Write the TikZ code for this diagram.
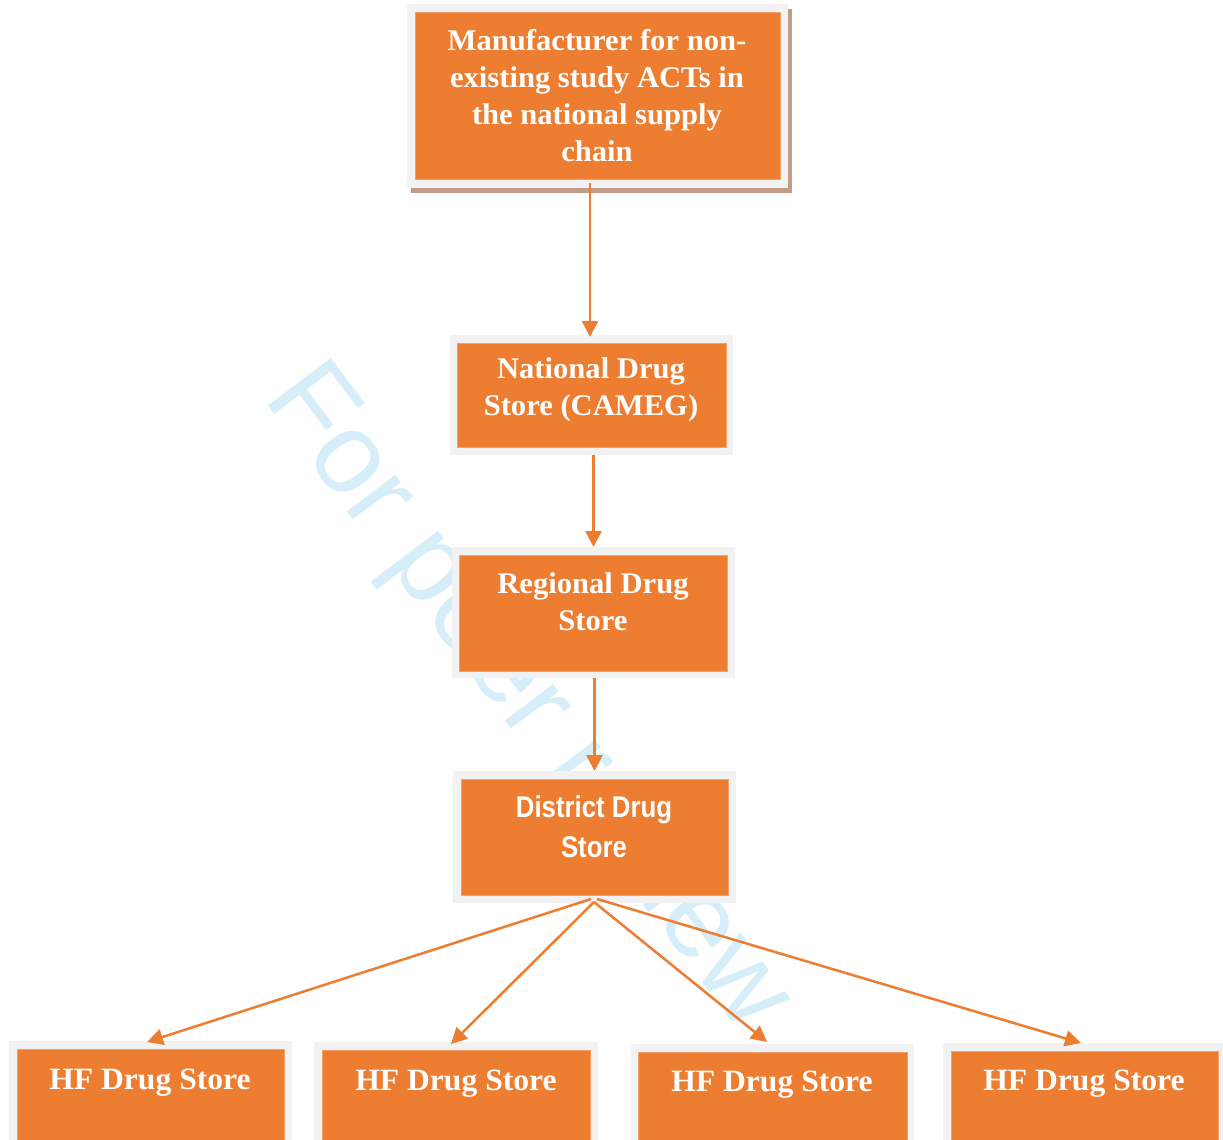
\documentclass[tikz,border=0pt]{standalone}
\usepackage{fontspec}
\setmainfont{Liberation Serif}[FakeStretch=1.02]
\newfontfamily\distfont{Liberation Sans}[FakeStretch=0.86]
\newfontfamily\wmfont{Liberation Sans}
\usetikzlibrary{arrows.meta,calc}
\definecolor{org}{HTML}{ED7D31}
\definecolor{frm}{HTML}{F2F2F2}
\definecolor{shd}{HTML}{C19C86}
\definecolor{wmc}{HTML}{D6EEFA}
\definecolor{orgedge}{HTML}{F3A06A}
\begin{document}
\begin{tikzpicture}[x=1pt,y=-1pt,
  framebox/.style={fill=frm, draw=none, inner sep=0pt, outer sep=0pt},
  shadowbox/.style={fill=shd, draw=none, inner sep=0pt, outer sep=0pt},
  orangebox/.style={fill=org, draw=orgedge, line width=0.6pt, inner sep=0pt, outer sep=0pt},
  boxtext/.style={text=white, align=center, inner sep=0pt, font=\bfseries\fontsize{30}{37}\selectfont},
  hftext/.style={text=white, inner sep=0pt, anchor=base, font=\bfseries\fontsize{31}{37}\selectfont},
  disttext/.style={text=white, align=center, inner sep=0pt, font=\distfont\bfseries\fontsize{30}{40}\selectfont},
  flowarrow/.style={draw=org, line width=2.5pt, -{Triangle[length=16pt,width=16pt]}},
]
\useasboundingbox (0,0) rectangle (1223,1140);
\clip (0,0) rectangle (1223,1140);

% watermark
\node[rotate=-53, anchor=base west, inner sep=0pt, text=wmc,
      font=\wmfont\fontsize{115}{115}\selectfont] (wm) at (262,398) {For peer review};

% top box
\node[shadowbox, minimum width=381pt, minimum height=184pt] (tops) at (601.5,101) {};
\node[framebox, minimum width=381pt, minimum height=184pt] (topf) at (597.5,96) {};
\node[orangebox, minimum width=365pt, minimum height=167pt] (topo) at (597.5,95.5) {};
\node[boxtext] (topt) at (597,95.5) {Manufacturer for non-\\existing study ACTs in\\the national supply\\chain};

% national
\node[framebox, minimum width=283pt, minimum height=120pt] (natf) at (591.5,395) {};
\node[orangebox, minimum width=269pt, minimum height=104pt] (nato) at (591.5,395) {};
\node[boxtext] (natt) at (591,390) {National Drug\\Store (CAMEG)};

% regional
\node[framebox, minimum width=283pt, minimum height=131pt] (regf) at (593.5,612.5) {};
\node[orangebox, minimum width=268pt, minimum height=116pt] (rego) at (593,613) {};
\node[boxtext] (regt) at (593,601.5) {Regional Drug\\Store};

% district
\node[framebox, minimum width=283pt, minimum height=132pt] (disf) at (594.5,837) {};
\node[orangebox, minimum width=267pt, minimum height=116pt] (diso) at (594.5,837) {};
\node[disttext] (dist) at (594,827) {District Drug\\Store};

% HF stores
\node[framebox, minimum width=283pt, minimum height=99pt] (hf1) at (150.5,1090.5) {};
\node[orangebox, minimum width=267pt, minimum height=91pt] (hf1o) at (150.5,1094.5) {};
\node[hftext] (hf1t) at (150,1089) {HF Drug Store};

\node[framebox, minimum width=284pt, minimum height=98pt] (hf2) at (456,1091) {};
\node[orangebox, minimum width=268pt, minimum height=90pt] (hf2o) at (456,1095) {};
\node[hftext] (hf2t) at (456,1090) {HF Drug Store};

\node[framebox, minimum width=283pt, minimum height=96pt] (hf3) at (772.5,1092) {};
\node[orangebox, minimum width=269pt, minimum height=88pt] (hf3o) at (772.5,1096) {};
\node[hftext] (hf3t) at (772,1091) {HF Drug Store};

\node[framebox, minimum width=280pt, minimum height=97pt] (hf4) at (1083,1091.5) {};
\node[orangebox, minimum width=267pt, minimum height=89pt] (hf4o) at (1084.5,1095.5) {};
\node[hftext] (hf4t) at (1084,1090) {HF Drug Store};

% connectors
\draw[flowarrow] ($(natf.north |- topo.south)+(-1.5,4)$) -- ($(natf.north)+(-1.5,2)$);
\draw[flowarrow] (regf.north |- natf.south) -- (regf.north);
\draw[flowarrow] (disf.north |- regf.south) -- (disf.north);

\draw[flowarrow] ($(disf.south)+(-3.5,-4)$) -- ($(hf1.north)+(-3.5,1)$);
\draw[flowarrow] ($(disf.south)+(-0.5,-1)$) -- ($(hf2.north)+(-5,2)$);
\draw[flowarrow] ($(disf.south)+(-0.5,-1)$) -- ($(hf3.north)+(-5.5,-2)$);
\draw[flowarrow] ($(disf.south)+(2.5,-4)$) -- ($(hf4.north)+(-2,0)$);
\end{tikzpicture}
\end{document}
